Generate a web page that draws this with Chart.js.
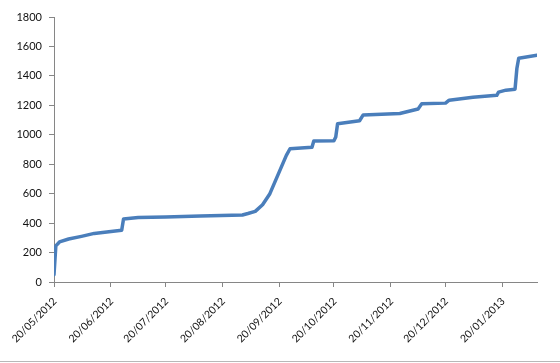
<!DOCTYPE html>
<html>
<head>
<meta charset="utf-8">
<script src="https://cdn.jsdelivr.net/npm/chart.js@4.4.0/dist/chart.umd.min.js"></script>
<style>
  html, body { margin: 0; padding: 0; background: #fff; }
  .wrap { position: relative; width: 560px; height: 361px; border-bottom: 1px solid #b8b8b8; }
</style>
</head>
<body>
<div class="wrap"><canvas id="c" width="560" height="361"></canvas></div>
<script>
// dates of the readings and the running total on each
const dates = [
  "2012-05-20", "2012-05-21", "2012-05-23", "2012-05-28", "2012-06-04", "2012-06-11",
  "2012-06-19", "2012-06-26", "2012-06-27", "2012-07-05", "2012-07-20", "2012-08-08",
  "2012-08-31", "2012-09-03", "2012-09-07", "2012-09-11", "2012-09-15", "2012-09-24",
  "2012-09-26", "2012-10-08", "2012-10-09", "2012-10-20", "2012-10-21", "2012-10-22",
  "2012-11-03", "2012-11-05", "2012-11-25", "2012-12-05", "2012-12-07", "2012-12-20",
  "2012-12-22", "2013-01-04", "2013-01-17", "2013-01-18", "2013-01-22", "2013-01-27",
  "2013-01-28", "2013-01-29", "2013-02-08"
];
const totals = [
  50, 245, 272, 292, 310, 330,
  342, 352, 428, 438, 442, 448,
  455, 465, 480, 525, 600, 860,
  905, 915, 958, 960, 985, 1075,
  1095, 1135, 1145, 1175, 1210, 1215,
  1235, 1255, 1268, 1290, 1303, 1310,
  1450, 1520, 1540
];
const tickDates = [
  "2012-05-20", "2012-06-20", "2012-07-20", "2012-08-20", "2012-09-20",
  "2012-10-20", "2012-11-20", "2012-12-20", "2013-01-20"
];
const tickLabels = [
  "20/05/2012", "20/06/2012", "20/07/2012", "20/08/2012", "20/09/2012",
  "20/10/2012", "20/11/2012", "20/12/2012", "20/01/2013"
];
const axisEnd = "2013-02-08";

const DAY = 86400000;
const t0 = Date.parse(dates[0]);
const dayOf = (s) => Math.round((Date.parse(s) - t0) / DAY);

const points = dates.map((d, i) => ({ x: dayOf(d), y: totals[i] }));
const tickDays = tickDates.map(dayOf);

const axisGrey = "#868686";
const family = "Lato, 'Liberation Sans', sans-serif";

new Chart(document.getElementById("c").getContext("2d"), {
  type: "line",
  data: {
    datasets: [{
      data: points,
      borderColor: "rgb(74, 126, 187)",
      borderWidth: 3.5,
      borderJoinStyle: "round",
      borderCapStyle: "round",
      pointRadius: 0,
      tension: 0,
      fill: false,
    }],
  },
  options: {
    responsive: false,
    animation: false,
    layout: { padding: { top: 17, right: 23, left: 0, bottom: 0 } },
    plugins: { legend: { display: false }, tooltip: { enabled: false } },
    scales: {
      x: {
        type: "linear",
        min: 0,
        max: dayOf(axisEnd),
        afterBuildTicks: (s) => { s.ticks = tickDays.map((v) => ({ value: v })); },
        afterFit: (s) => { s.height = 79; },
        border: { color: axisGrey, width: 1 },
        grid: { drawOnChartArea: false, drawTicks: true, tickLength: 5, color: axisGrey },
        ticks: {
          autoSkip: false,
          minRotation: 45,
          maxRotation: 45,
          padding: 8,
          labelOffset: 1,
          color: "#111",
          font: { family, size: 10.5 },
          callback: (v, i) => tickLabels[i],
        },
      },
      y: {
        min: 0,
        max: 1800,
        afterFit: (s) => { s.width = 54; },
        border: { color: axisGrey, width: 1 },
        grid: { drawOnChartArea: false, drawTicks: true, tickLength: 5, color: axisGrey },
        ticks: { stepSize: 200, padding: 7, color: "#111", font: { family, size: 11 }, callback: (v) => String(v) },
      },
    },
  },
});
</script>
</body>
</html>
